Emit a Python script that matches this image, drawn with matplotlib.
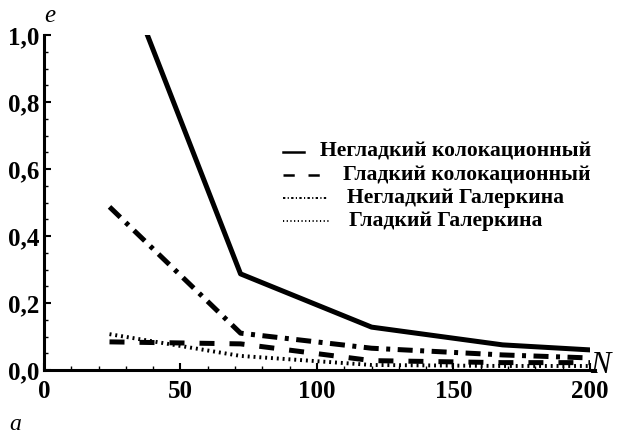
import matplotlib.pyplot as plt
from matplotlib.lines import Line2D
from matplotlib.ticker import MultipleLocator, FuncFormatter

# error e versus number of nodes N
N = [24, 72, 120, 168, 200]
nonsmooth_colloc = [1.29, 0.287, 0.128, 0.075, 0.06]
smooth_colloc = [0.084, 0.078, 0.028, 0.022, 0.022]
nonsmooth_galerkin = [0.487, 0.11, 0.065, 0.045, 0.036]
smooth_galerkin = [0.107, 0.042, 0.015, 0.012, 0.012]

labels = ['Негладкий колокационный', 'Гладкий колокационный',
          'Негладкий Галеркина', 'Гладкий Галеркина']

plt.rcParams['font.family'] = ['Liberation Serif', 'DejaVu Serif']

W, H = 624, 433
fig = plt.figure(figsize=(W / 100, H / 100), dpi=100)
ax = fig.add_axes([0.0705, 0.1455, 0.875, 0.7735])

styles = [
    dict(ls='-', lw=3.6),
    dict(ls=(0, (3, 3)), lw=3.6),
    dict(ls=(0, (3, 1.5, 0.8, 1.5)), lw=3.6),
    dict(ls=(0, (0.5, 1.0)), lw=2.8),
]
series = [nonsmooth_colloc, smooth_colloc, nonsmooth_galerkin, smooth_galerkin]
for y, st in zip(series, styles):
    ax.plot(N, y, color='black', **st)

ax.set_xlim(0, 200)
ax.set_ylim(0, 1.0)
for side in ['top', 'right']:
    ax.spines[side].set_visible(False)
for side in ['left', 'bottom']:
    ax.spines[side].set_linewidth(2.2)
ax.spines['bottom'].set_bounds(0, 202)

ax.xaxis.set_major_locator(MultipleLocator(50))
ax.xaxis.set_minor_locator(MultipleLocator(10))
ax.yaxis.set_major_locator(MultipleLocator(0.2))
ax.yaxis.set_minor_locator(MultipleLocator(0.05))
ax.yaxis.set_major_formatter(FuncFormatter(lambda v, p: f'{v:.1f}'.replace('.', ',')))
ax.tick_params(which='major', direction='in', length=5, width=1.5, labelsize=18)
ax.tick_params(axis='y', which='major', pad=3)
ax.tick_params(axis='x', which='major', pad=7)
ax.tick_params(which='minor', direction='in', length=3, width=1.0)
for lab in ax.get_xticklabels() + ax.get_yticklabels():
    lab.set_fontweight('bold')

ax.text(0.0, 1.025, 'e', transform=ax.transAxes, fontsize=18, style='italic', ha='left', va='bottom')
ax.text(1.0, -0.03, 'N', transform=ax.transAxes, fontsize=22, style='italic', ha='left', va='bottom')
fig.text(0.015, 0.008, 'а', fontsize=17, style='italic')

# hand-placed key, positions in pixels from the top-left corner
key_rows = [
    (152, 283, 304, 320, dict(ls='-', lw=1.8)),
    (175, 283, 326, 343, dict(ls=(0, (4.5, 5.5)), lw=1.8)),
    (198, 283, 328, 347, dict(ls=(0, (1.2, 1.2, 0.6, 1.2)), lw=1.4)),
    (221, 283, 330, 349, dict(ls=(0, (0.6, 1.3)), lw=1.4)),
]
for (yp, x0, x1, xt, st), lab in zip(key_rows, labels):
    fig.add_artist(Line2D([x0 / W, x1 / W], [1 - yp / H, 1 - yp / H],
                          transform=fig.transFigure, color='black', **st))
    fig.text(xt / W, 1 - yp / H, lab, fontsize=15.6, fontweight='bold', ha='left', va='center')

fig.savefig('out.png', dpi=100)
